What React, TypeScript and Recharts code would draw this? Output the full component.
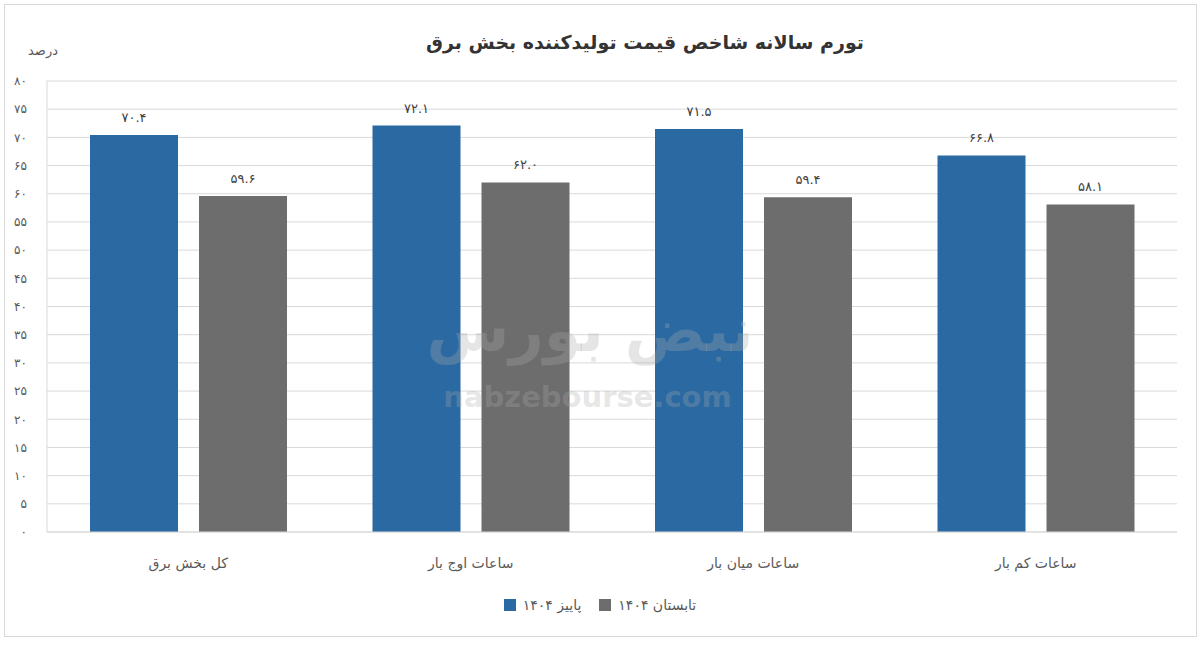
import React from "react";
import { BarChart, Bar, XAxis, YAxis, CartesianGrid, Legend, LabelList } from "recharts";

const categories = ["کل بخش برق", "ساعات اوج بار", "ساعات میان بار", "ساعات کم بار"];
const autumn1404 = [70.4, 72.1, 71.5, 66.8];
const summer1404 = [59.6, 62.0, 59.4, 58.1];
const yTicks = [0, 5, 10, 15, 20, 25, 30, 35, 40, 45, 50, 55, 60, 65, 70, 75, 80];
const seriesNames = ["پاییز ۱۴۰۴", "تابستان ۱۴۰۴"];
const title = "تورم سالانه شاخص قیمت تولیدکننده بخش برق";
const yUnit = "درصد";

const data = categories.map((c, i) => ({ name: c, autumn: autumn1404[i], summer: summer1404[i] }));

const FA = "۰۱۲۳۴۵۶۷۸۹";
const toFa = (s: string) => s.replace(/\d/g, (d) => FA[Number(d)]);

const BLUE = "#2b69a2";
const GRAY = "#6d6d6d";
const FONT = "'DejaVu Sans', sans-serif";

const LegendContent = () => (
  <div style={{ display: "flex", justifyContent: "center", alignItems: "center", height: 20, fontFamily: FONT, fontSize: 14, color: "#595959" }}>
    {[BLUE, GRAY].map((c, i) => (
      <div key={i} style={{ display: "flex", alignItems: "center", marginRight: i === 0 ? 18 : 0 }}>
        <span style={{ display: "inline-block", width: 12, height: 12, background: c, marginRight: 7 }} />
        <span>{seriesNames[i]}</span>
      </div>
    ))}
  </div>
);

export default function App() {
  return (
    <div style={{ position: "absolute", left: 0, top: 0, width: 1200, height: 646, background: "#fff", fontFamily: FONT }}>
      <div style={{ position: "absolute", left: 4, top: 4, width: 1193, height: 633, border: "1px solid #d9d9d9", boxSizing: "border-box" }} />
      <div style={{ position: "absolute", left: 295, width: 700, top: 31, textAlign: "center", fontSize: 19, fontWeight: "bold", color: "#333", direction: "rtl", whiteSpace: "nowrap" }}>
        {title}
      </div>
      <div style={{ position: "absolute", left: 18, width: 50, top: 43, textAlign: "center", fontSize: 13, color: "#595959", direction: "rtl" }}>
        {yUnit}
      </div>
      <div style={{ position: "absolute", left: 0, top: 0 }}>
        <BarChart
          width={1200}
          height={646}
          data={data}
          margin={{ top: 81, right: 23, left: 7, bottom: 54 }}
          barGap={21}
          barCategoryGap={43}
        >
          <CartesianGrid vertical={false} stroke="#d9d9d9" />
          <XAxis
            dataKey="name"
            height={40}
            tickLine={false}
            axisLine={{ stroke: "#d9d9d9" }}
            tick={{ fill: "#595959", fontSize: 14, fontFamily: FONT }}
            tickMargin={20}
          />
          <YAxis
            width={40}
            domain={[0, 80]}
            ticks={yTicks}
            interval={0}
            tickLine={false}
            axisLine={{ stroke: "#d9d9d9" }}
            tick={{ fill: "#595959", fontSize: 12, fontFamily: FONT }}
            tickMargin={14}
            tickFormatter={(v: number) => toFa(String(v))}
          />
          <Legend content={<LegendContent />} wrapperStyle={{ top: 595, left: 0, width: 1200 }} />
          <Bar dataKey="autumn" name={seriesNames[0]} fill={BLUE} isAnimationActive={false}>
            <LabelList dataKey="autumn" position="top" offset={13} fill="#404040" fontSize={13} fontFamily={FONT} formatter={(v: any) => toFa(Number(v).toFixed(1))} />
          </Bar>
          <Bar dataKey="summer" name={seriesNames[1]} fill={GRAY} isAnimationActive={false}>
            <LabelList dataKey="summer" position="top" offset={13} fill="#404040" fontSize={13} fontFamily={FONT} formatter={(v: any) => toFa(Number(v).toFixed(1))} />
          </Bar>
        </BarChart>
      </div>
      <div style={{ position: "absolute", left: 0, width: 1200, top: 295, textAlign: "center", fontSize: 60, fontWeight: "bold", color: "rgba(170,170,170,0.3)", direction: "rtl", pointerEvents: "none" }}>
        <span style={{ marginLeft: -20 }}>نبض بورس</span>
      </div>
      <div style={{ position: "absolute", left: 0, width: 1200, top: 380, textAlign: "center", fontSize: 29, fontWeight: "bold", color: "rgba(170,170,170,0.3)", pointerEvents: "none" }}>
        <span style={{ marginLeft: -25 }}>nabzebourse.com</span>
      </div>
    </div>
  );
}
